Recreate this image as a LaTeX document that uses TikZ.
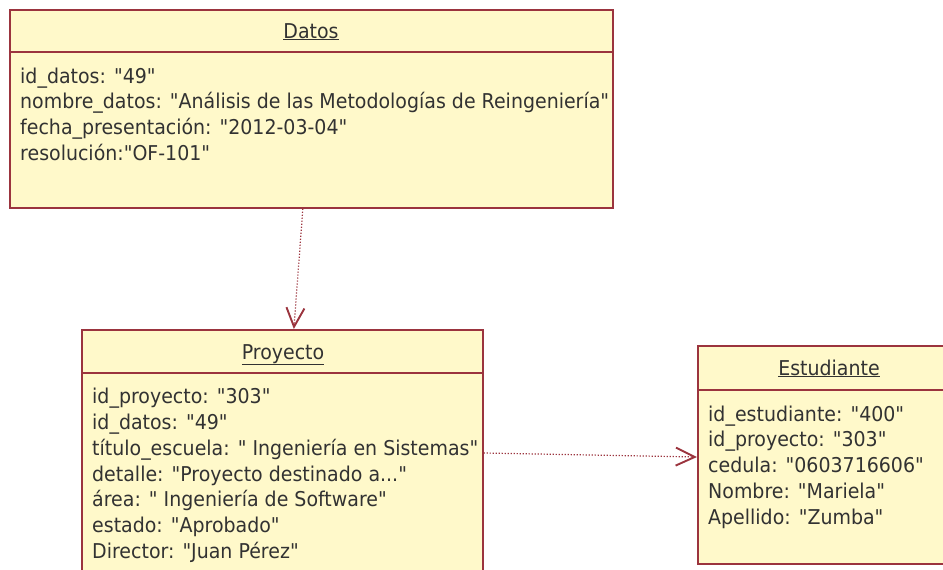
\documentclass[tikz,border=0pt]{standalone}
\usepackage{fontspec}
\setmainfont{DejaVu Sans}[Ligatures=TeXOff, FakeStretch=0.93]
\usetikzlibrary{arrows.meta,calc}

\definecolor{umlfill}{RGB}{255,249,202}
\definecolor{umlline}{RGB}{155,52,62}
\definecolor{umltext}{RGB}{50,50,50}

\newcommand{\umlfont}{\fontsize{20.4}{25.8}\selectfont}

\tikzset{
  classbox/.style={draw=umlline, fill=umlfill, line width=1.7pt, rectangle,
                   inner sep=0pt, anchor=north west},
  compsep/.style={draw=umlline, line width=1.5pt},
  classtitle/.style={text=umltext, font=\umlfont, inner sep=0pt, anchor=base},
  attrs/.style={text=umltext, font=\umlfont, inner sep=0pt, align=left,
                anchor=north west},
  dep/.style={draw=umlline, line width=1.2pt, dash pattern=on 1.2pt off 1.8pt,
              -{Straight Barb[length=19pt, width=18pt, line width=1.9pt]}}
}

\begin{document}
\begin{tikzpicture}[x=1pt, y=-1pt]
  \useasboundingbox (0,0) rectangle (943,570);
  \clip (0,0) rectangle (943,570);

  % object boxes
  \node[classbox, minimum width=603pt, minimum height=198pt] (datos) at (9,9) {};
  \node[classbox, minimum width=401pt, minimum height=260pt] (proyecto) at (81,329) {};
  \node[classbox, minimum width=264pt, minimum height=218pt] (estudiante) at (697,345) {};

  % compartment separators
  \draw[compsep] (9,52) -- (614,52);
  \draw[compsep] (81,373) -- (484,373);
  \draw[compsep] (697,390) -- (961,390);

  % titles
  \node[classtitle] (tdatos) at (311,38) {\underline{Datos}};
  \node[classtitle] (tproyecto) at (283,359) {\underline{Proyecto}};
  \node[classtitle] (testudiante) at (829,375) {\underline{Estudiante}};

  % attributes
  \node[attrs] (adatos) at (20,64.9) {\strut id\_datos: "49"\\
    \strut nombre\_datos: "Análisis de las Metodologías de Reingeniería"\\
    \strut fecha\_presentación: "2012-03-04"\\
    \strut resolución:"OF-101"};
  \node[attrs] (aproyecto) at (92,385.4) {\strut id\_proyecto: "303"\\
    \strut id\_datos: "49"\\
    \strut título\_escuela: " Ingeniería en Sistemas"\\
    \strut detalle: "Proyecto destinado a..."\\
    \strut área: " Ingeniería de Software"\\
    \strut estado: "Aprobado"\\
    \strut Director: "Juan Pérez"};
  \node[attrs] (aestudiante) at (708,402.9) {\strut id\_estudiante: "400"\\
    \strut id\_proyecto: "303"\\
    \strut cedula: "0603716606"\\
    \strut Nombre: "Mariela"\\
    \strut Apellido: "Zumba"};

  % dependencies
  \draw[dep] ($(datos.south)+(-8.5,0)$) -- ($(proyecto.north)+(11.5,0)$);
  \draw[dep] ($(proyecto.north east)+(0,124)$) -- ($(estudiante.north west)+(0,112)$);
\end{tikzpicture}
\end{document}
